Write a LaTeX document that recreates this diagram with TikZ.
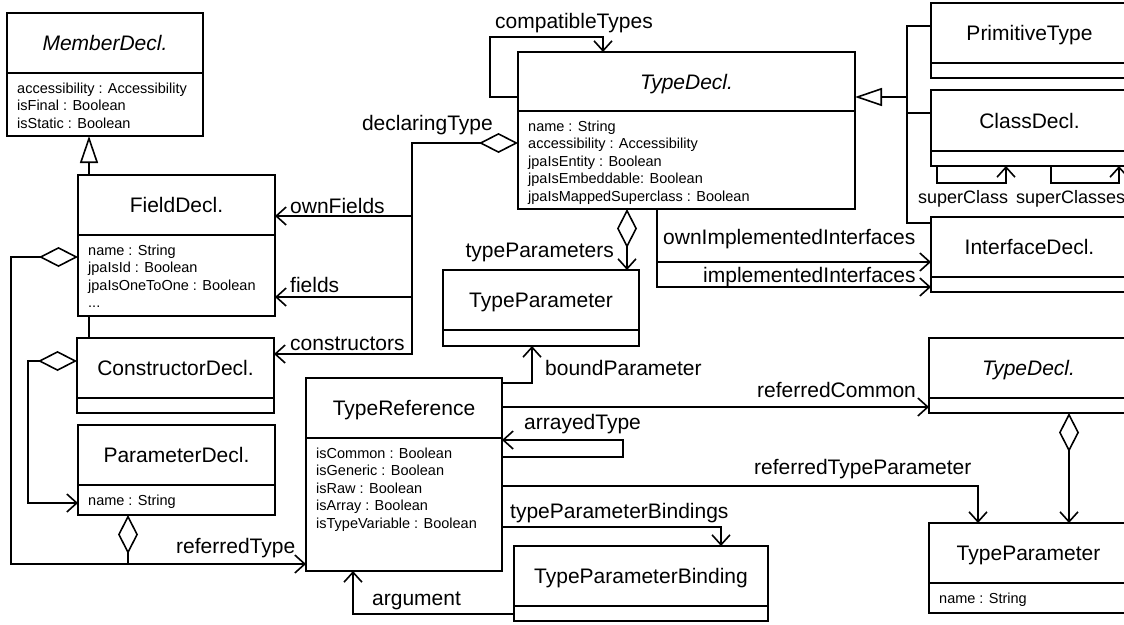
\documentclass[tikz,border=0pt]{standalone}
\usepackage{fontspec}
\setmainfont{Liberation Sans}
\usetikzlibrary{arrows.meta}
\tikzset{
  conn/.style={line width=1.6pt},
  classbox/.style={draw, line width=1.6pt, inner sep=0pt, outer sep=0pt},
  ttl/.style={font=\fontsize{21}{25}\selectfont, inner sep=0pt, anchor=base},
  attrs/.style={font=\fontsize{14.5}{17.5}\selectfont, inner sep=0pt, anchor=north west, align=left},
  lbl/.style={font=\fontsize{21}{25}\selectfont, inner sep=0pt, anchor=base west},
  lbls/.style={font=\fontsize{18}{22}\selectfont, inner sep=0pt, anchor=base west},
  arr/.style={conn, -{Straight Barb[length=10pt,width=18pt]}},
  gen/.style={conn, -{Triangle[open,length=27pt,width=18pt]}},
  aggr/.style={conn, {Diamond[open,length=39pt,width=20pt]}-{Straight Barb[length=10pt,width=18pt]}},
  aggonly/.style={conn, {Diamond[open,length=39pt,width=20pt]}-},
}
\newcommand\umlclass[8]{%
  \node[classbox, anchor=north west, minimum width={(#4)-(#2)}, minimum height={(#6)-(#3)}] (#1) at (#2,#3) {};
  \draw[conn] (#1.west |- 0,#5) -- (#1.east |- 0,#5);
  \node[ttl] (#1-t) at ({((#2)+(#4))/2},{((#3)+(#5))/2+7.5}) {#7};
  \node[attrs] (#1-a) at ({(#2)+10},{(#5)+9.5}) {#8};
}
\begin{document}
\begin{tikzpicture}[x=1pt,y=-1pt]
\useasboundingbox (0,0) rectangle (1124,624);
\clip (0,0) rectangle (1124,624);
\fill[white] (0,0) rectangle (1124,624);

% classes
\umlclass{md}{7}{13}{203}{73}{136}{\itshape MemberDecl.}{accessibility : Accessibility\\isFinal : Boolean\\isStatic : Boolean}
\umlclass{fd}{78}{175}{275}{235}{316}{FieldDecl.}{name : String\\jpaIsId : Boolean\\jpaIsOneToOne : Boolean\\...}
\umlclass{cd}{77}{338}{274}{398}{413}{ConstructorDecl.}{}
\umlclass{pd}{78}{425}{275}{485}{515}{ParameterDecl.}{name : String}
\umlclass{td}{518}{52}{855}{111}{209}{\itshape TypeDecl.}{name : String\\accessibility : Accessibility\\jpaIsEntity : Boolean\\jpaIsEmbeddable: Boolean\\jpaIsMappedSuperclass : Boolean}
\umlclass{tp}{443}{270}{639}{330}{346}{TypeParameter}{}
\umlclass{tr}{306}{378}{502}{438}{571}{TypeReference}{isCommon : Boolean\\isGeneric : Boolean\\isRaw : Boolean\\isArray : Boolean\\isTypeVariable : Boolean}
\umlclass{tpb}{514}{546}{768}{606}{621}{TypeParameterBinding}{}
\umlclass{pt}{931}{3}{1128}{63}{78}{PrimitiveType}{}
\umlclass{cl}{931}{90}{1128}{151}{166}{ClassDecl.}{}
\umlclass{id}{931}{217}{1128}{277}{292}{InterfaceDecl.}{}
\umlclass{tdb}{929}{338}{1128}{398}{413}{\itshape TypeDecl.}{}
\umlclass{tpc}{929}{523}{1128}{583}{613}{TypeParameter}{name : String}

% member hierarchy
\draw[gen] (fd.north -| 89,0) -- (md.south -| 89,0);
\draw[conn] (fd.south -| 89,0) -- (cd.north -| 89,0);

% compatibleTypes
\draw[arr] (td.west |- 0,97) -| (490,37) -| (td.north -| 603,0);

% declaringType
\coordinate (dtA) at (412,216);
\coordinate (dtB) at (412,297);
\draw[aggr] (td.west |- 0,143) -- (412,143) |- (cd.east |- 0,354);
\draw[arr] (dtA) -- (fd.east |- dtA);
\draw[arr] (dtB) -- (fd.east |- dtB);

% typeParameters
\draw[aggr] (td.south -| 627,0) -- (tp.north -| 627,0);

% implemented interfaces
\coordinate (oiA) at (657,262);
\draw[arr] (td.south -| 657,0) |- (id.west |- 0,287);
\draw[arr] (oiA) -- (id.west |- oiA);

% type hierarchy
\coordinate (gA) at (907,97);
\coordinate (gB) at (907,113);
\draw[gen] (gA) -- (td.east |- gA);
\draw[conn] (pt.west |- 0,26) -- (907,26) -- (907,223) -- (id.west |- 0,223);
\draw[conn] (gB) -- (cl.west |- gB);

% superClass / superClasses
\draw[arr] (cl.south -| 937,0) |- (1006,183) -- (cl.south -| 1006,0);
\draw[arr] (cl.south -| 1051,0) |- (1119,183) -- (cl.south -| 1119,0);

% TypeReference connectors
\draw[arr] (tr.east |- 0,383) -| (tp.south -| 532,0);
\draw[arr] (tr.east |- 0,407) -- (tdb.west |- 0,407);
\draw[arr] (tr.east |- 0,457) -| (623,440) -- (tr.east |- 0,440);
\draw[arr] (tr.east |- 0,486) -| (tpc.north -| 978,0);
\draw[arr] (tr.east |- 0,527) -| (tpb.north -| 721,0);
\draw[arr] (tpb.west |- 0,614) -| (tr.south -| 353,0);

% referredType
\coordinate (rtJ) at (128,564);
\draw[aggr] (fd.west |- 0,257) -| (11,564) -- (tr.west |- 0,564);
\draw[aggonly] (pd.south -| rtJ) -- (rtJ);

% ConstructorDecl -> ParameterDecl
\draw[aggr] (cd.west |- 0,361) -| (28,503) -- (pd.west |- 0,503);

% TypeDecl -> TypeParameter (right)
\draw[aggr] (tdb.south -| 1069,0) -- (tpc.north -| 1069,0);

% labels
\node[lbl] (lcompat) at (495,28) {compatibleTypes};
\node[lbl, anchor=base east] (ldecl) at (493,130) {declaringType};
\node[lbl] (lown) at (290,213) {ownFields};
\node[lbl] (lfields) at (290,292) {fields};
\node[lbl] (lcons) at (290,350) {constructors};
\node[lbl, anchor=base east] (ltp) at (614,257) {typeParameters};
\node[lbl] (lbound) at (545,375) {boundParameter};
\node[lbl] (loii) at (663,244) {ownImplementedInterfaces};
\node[lbl] (lii) at (703,282) {implementedInterfaces};
\node[lbls] (lsc) at (918,203) {superClass};
\node[lbls] (lscs) at (1016,203) {superClasses};
\node[lbl] (lrc) at (757,397) {referredCommon};
\node[lbl] (lat) at (524,429) {arrayedType};
\node[lbl] (lrtp) at (754,474) {referredTypeParameter};
\node[lbl] (ltpb) at (510,518) {typeParameterBindings};
\node[lbl] (larg) at (372,605) {argument};
\node[lbl] (lrt) at (176,553) {referredType};
\end{tikzpicture}
\end{document}
